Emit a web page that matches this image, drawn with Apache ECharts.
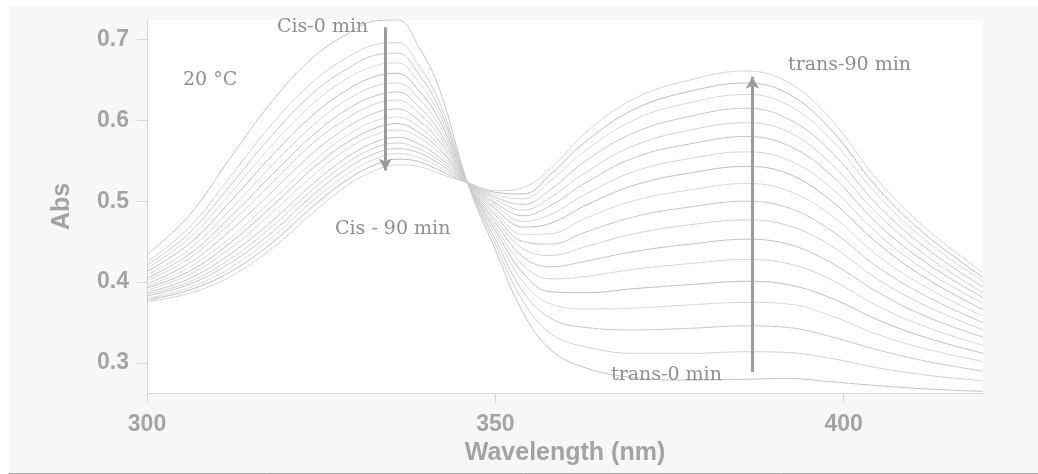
<!DOCTYPE html>
<html>
<head>
<meta charset="utf-8">
<script src="https://cdn.jsdelivr.net/npm/echarts@6/dist/echarts.min.js"></script>
<style>
html,body{margin:0;padding:0;background:#fff;}
#chart{width:1038px;height:474px;}
</style>
</head>
<body>
<div id="chart"></div>
<script>
// Wavelength grid (nm)
const wavelengths = [300,306,312,318,324,329,333,336,339,342,346,350,354,358,363,370,378,386,392,398,405,412,420];
// Scan labels (0 min ... 90 min)
const scanNames = ['scan 1','scan 2','scan 3','scan 4','scan 5','scan 6','scan 7','scan 8','scan 9','scan 10','scan 11','scan 12','scan 13','scan 14','scan 15','scan 16','scan 17','scan 18'];
// Absorbance of each scan at the wavelengths above
const scan01 = [0.434,0.482,0.554,0.624,0.679,0.708,0.723,0.724,0.691,0.638,0.523,0.440,0.362,0.316,0.294,0.282,0.279,0.280,0.281,0.277,0.272,0.268,0.265];
const scan02 = [0.425,0.467,0.531,0.596,0.649,0.679,0.694,0.696,0.668,0.622,0.523,0.447,0.376,0.336,0.320,0.312,0.312,0.314,0.313,0.306,0.294,0.285,0.278];
const scan03 = [0.421,0.460,0.520,0.582,0.635,0.665,0.681,0.683,0.657,0.614,0.523,0.453,0.388,0.355,0.344,0.341,0.343,0.346,0.344,0.333,0.316,0.302,0.290];
const scan04 = [0.417,0.454,0.510,0.570,0.622,0.653,0.668,0.671,0.647,0.607,0.523,0.459,0.400,0.373,0.367,0.368,0.372,0.375,0.373,0.359,0.335,0.317,0.302];
const scan05 = [0.413,0.447,0.500,0.557,0.608,0.639,0.655,0.658,0.637,0.600,0.523,0.464,0.411,0.388,0.387,0.392,0.397,0.401,0.397,0.381,0.353,0.331,0.312];
const scan06 = [0.409,0.440,0.490,0.545,0.595,0.627,0.643,0.646,0.627,0.593,0.523,0.469,0.421,0.404,0.407,0.416,0.423,0.428,0.423,0.404,0.370,0.344,0.322];
const scan07 = [0.405,0.434,0.481,0.533,0.583,0.615,0.631,0.635,0.617,0.586,0.523,0.474,0.431,0.419,0.426,0.438,0.447,0.453,0.447,0.425,0.387,0.357,0.332];
const scan08 = [0.402,0.429,0.473,0.523,0.573,0.604,0.621,0.625,0.609,0.580,0.523,0.478,0.441,0.433,0.444,0.460,0.471,0.477,0.470,0.446,0.403,0.370,0.341];
const scan09 = [0.398,0.423,0.464,0.512,0.561,0.593,0.610,0.614,0.600,0.574,0.523,0.483,0.450,0.447,0.462,0.481,0.493,0.500,0.492,0.465,0.418,0.382,0.350];
const scan10 = [0.395,0.418,0.455,0.502,0.550,0.583,0.600,0.604,0.592,0.568,0.523,0.487,0.459,0.460,0.479,0.501,0.514,0.522,0.513,0.484,0.432,0.393,0.358];
const scan11 = [0.393,0.413,0.449,0.494,0.542,0.574,0.591,0.596,0.585,0.564,0.523,0.491,0.468,0.473,0.495,0.520,0.535,0.543,0.534,0.502,0.447,0.404,0.366];
const scan12 = [0.390,0.409,0.442,0.486,0.533,0.566,0.583,0.588,0.579,0.559,0.523,0.495,0.475,0.484,0.509,0.537,0.553,0.561,0.551,0.518,0.459,0.413,0.374];
const scan13 = [0.387,0.404,0.435,0.476,0.523,0.556,0.574,0.579,0.571,0.554,0.523,0.498,0.482,0.495,0.523,0.554,0.571,0.580,0.569,0.534,0.471,0.423,0.381];
const scan14 = [0.385,0.400,0.429,0.469,0.516,0.549,0.567,0.572,0.565,0.550,0.523,0.502,0.489,0.505,0.536,0.569,0.588,0.597,0.586,0.548,0.483,0.432,0.387];
const scan15 = [0.383,0.397,0.424,0.462,0.509,0.542,0.560,0.565,0.560,0.546,0.523,0.505,0.496,0.515,0.550,0.585,0.605,0.615,0.602,0.563,0.494,0.441,0.394];
const scan16 = [0.380,0.393,0.418,0.456,0.502,0.535,0.553,0.559,0.554,0.542,0.523,0.508,0.503,0.526,0.563,0.601,0.622,0.632,0.619,0.578,0.506,0.450,0.401];
const scan17 = [0.378,0.390,0.413,0.449,0.495,0.528,0.546,0.552,0.549,0.538,0.523,0.511,0.509,0.534,0.574,0.614,0.636,0.646,0.633,0.590,0.515,0.457,0.406];
const scan18 = [0.376,0.386,0.407,0.442,0.487,0.521,0.539,0.545,0.543,0.534,0.523,0.513,0.517,0.541,0.585,0.627,0.650,0.661,0.647,0.603,0.525,0.465,0.412];
const scans = [scan01,scan02,scan03,scan04,scan05,scan06,scan07,scan08,scan09,scan10,scan11,scan12,scan13,scan14,scan15,scan16,scan17,scan18];
// Axis ticks
const xTicks = [300,350,400];
const yTicks = [0.3,0.4,0.5,0.6,0.7];
// Annotation arrows: [wavelength, from Abs, to Abs]
const cisArrow = [334.2, 0.715, 0.538];
const transArrow = [386.9, 0.289, 0.654];

const palette = ['#c3c3c3','#d1d1d1','#c7c7c7','#d8d8d8','#bdbdbd','#d4d4d4'];
const chart = echarts.init(document.getElementById('chart'), null, {renderer:'canvas'});

const series = scans.map((vals, i) => ({
  name: scanNames[i],
  type: 'line',
  data: wavelengths.map((w, j) => [w, vals[j]]),
  showSymbol: false,
  smooth: 0.4,
  lineStyle: {width: 1, color: palette[i % palette.length]},
  silent: true,
  z: 2
}));

series.push({
  type: 'line',
  data: [],
  silent: true,
  markLine: {
    silent: true,
    symbol: ['none', 'arrow'],
    symbolSize: [10, 12],
    label: {show: false},
    lineStyle: {color: '#9b9b9b', width: 3, type: 'solid'},
    data: [
      [{coord: [cisArrow[0], cisArrow[1]]}, {coord: [cisArrow[0], cisArrow[2]]}],
      [{coord: [transArrow[0], transArrow[1]]}, {coord: [transArrow[0], transArrow[2]]}]
    ]
  },
  z: 5
});

const serif = '"DejaVu Serif", "Liberation Serif", serif';
const sans = '"Liberation Sans", Arial, sans-serif';
const txtColor = '#8e8e8e';

chart.setOption({
  animation: false,
  backgroundColor: '#fff',
  graphic: [
    {type: 'rect', shape: {x: 9, y: 5, width: 1029, height: 468}, style: {fill: '#f7f7f7'}, z: -10, silent: true},
    {type: 'line', shape: {x1: 9, y1: 473.5, x2: 1038, y2: 473.5}, style: {stroke: '#a9a9a9', lineWidth: 1}, z: -9, silent: true},
    {type: 'text', x: 277, y: 27, z: 100, style: {text: 'Cis-0 min', font: '19px ' + serif, fill: txtColor, verticalAlign: 'middle'}},
    {type: 'text', x: 183, y: 80, z: 100, style: {text: '20 °C', font: '19px ' + serif, fill: txtColor, verticalAlign: 'middle'}},
    {type: 'text', x: 335, y: 229, z: 100, style: {text: 'Cis - 90 min', font: '19px ' + serif, fill: txtColor, verticalAlign: 'middle'}},
    {type: 'text', x: 788, y: 65, z: 100, style: {text: 'trans-90 min', font: '19px ' + serif, fill: txtColor, verticalAlign: 'middle'}},
    {type: 'text', x: 611, y: 375, z: 100, style: {text: 'trans-0 min', font: '19px ' + serif, fill: txtColor, verticalAlign: 'middle'}}
  ],
  grid: {left: 147, right: 55, top: 20, bottom: 81, show: true, backgroundColor: '#ffffff', borderWidth: 0, containLabel: false},
  xAxis: {
    type: 'value', min: 300, max: 420,
    name: 'Wavelength (nm)', nameLocation: 'middle', nameGap: 40,
    nameTextStyle: {color: '#a3a3a3', fontSize: 25, fontWeight: 'bold', fontFamily: sans},
    axisLine: {show: true, lineStyle: {color: '#d4d4d4', width: 1}},
    axisTick: {show: true, inside: false, length: 10, lineStyle: {color: '#d4d4d4'}, customValues: xTicks},
    axisLabel: {show: true, margin: 20, color: '#a4a4a4', fontSize: 23, fontWeight: 'bold', fontFamily: sans, customValues: xTicks},
    splitLine: {show: false}
  },
  yAxis: {
    type: 'value', min: 0.263, max: 0.724,
    name: 'Abs', nameLocation: 'middle', nameGap: 72, nameRotate: 90,
    nameTextStyle: {color: '#a3a3a3', fontSize: 25, fontWeight: 'bold', fontFamily: sans},
    axisLine: {show: true, lineStyle: {color: '#d4d4d4', width: 1}},
    axisTick: {show: true, inside: false, length: 10, lineStyle: {color: '#d4d4d4'}, customValues: yTicks},
    axisLabel: {show: true, margin: 18, color: '#a4a4a4', fontSize: 23, fontWeight: 'bold', fontFamily: sans, customValues: yTicks, formatter: v => v.toFixed(1)},
    splitLine: {show: false}
  },
  series: series
});
</script>
</body>
</html>
